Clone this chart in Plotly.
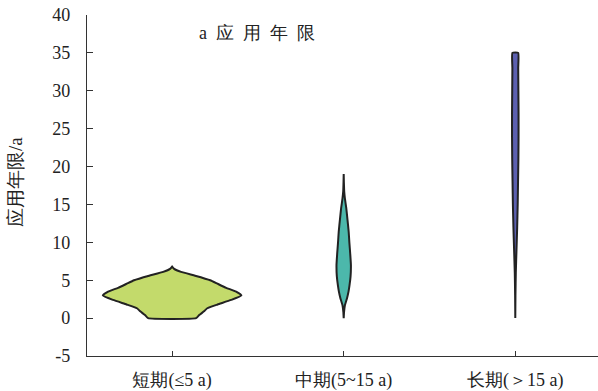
import plotly.graph_objects as go

# ---------------- data ----------------
categories = ["短期(≤5 a)", "中期(5~15 a)", "长期(＞15 a)"]
colors = ["#c3da6b", "#4cb8ab", "#5c60b0"]

# violin outlines: value levels (a) and half-widths (category units)
short_y = [0, 0.4, 0.9, 1.3, 1.8, 2.4, 3.0, 3.5, 4.0, 4.5, 5.0, 5.6, 6.1, 6.5, 6.8]
short_w = [0.140, 0.158, 0.186, 0.205, 0.265, 0.344, 0.404, 0.373, 0.315, 0.268,
           0.222, 0.134, 0.052, 0.012, 0.0]

mid_y = [0, 0.8, 1.7, 2.6, 3.5, 4.35, 5.5, 7.0, 8.5, 10, 11.4, 13, 14.5, 15.8, 16.7, 18, 19]
mid_w = [0.0, 0.002, 0.007, 0.019, 0.028, 0.034, 0.040, 0.042, 0.038, 0.033,
         0.029, 0.022, 0.015, 0.007, 0.003, 0.001, 0.0]

long_y = [0, 3, 6, 9, 12, 15, 18, 21, 24, 27, 30, 33, 35]
long_w = [0.0, 0.001, 0.003, 0.007, 0.011, 0.014, 0.016, 0.018, 0.019, 0.019,
          0.018, 0.017, 0.017]

profiles = [(short_y, short_w), (mid_y, mid_w), (long_y, long_w)]

y_tick_vals = [-5, 0, 5, 10, 15, 20, 25, 30, 35, 40]
y_tick_text = ["-5", "0", "5", "10", "15", "20", "25", "30", "35", "40"]

title_text = "a  应  用  年  限"
y_title = "应用年限/a"

# ---------------- figure ----------------
FONT = "serif"
TXT = "#222222"

fig = go.Figure()
for i, ((ys, ws), col) in enumerate(zip(profiles, colors)):
    xs = [i + w for w in ws] + [i - w for w in reversed(ws)]
    yy = list(ys) + list(reversed(ys))
    # close the outline explicitly so the base edge is stroked too
    xs.append(xs[0])
    yy.append(yy[0])
    fig.add_trace(go.Scatter(
        x=xs, y=yy, mode="lines", fill="toself", fillcolor=col,
        line=dict(color="#222222", width=2, shape="spline", smoothing=0.4),
        hoverinfo="skip", showlegend=False,
    ))

fig.update_layout(
    width=598, height=391,
    margin=dict(l=87, r=0, t=15, b=35),
    paper_bgcolor="white", plot_bgcolor="white",
    showlegend=False,
    font=dict(family=FONT, color=TXT),
    xaxis=dict(
        range=[-0.496, 2.482], tickvals=[0, 1, 2], ticktext=categories,
        showgrid=False, zeroline=False, showline=True, linecolor="#333333",
        linewidth=1.3, ticks="inside", ticklen=5, tickcolor="#333333",
        tickfont=dict(size=18, family=FONT, color=TXT), ticklabelstandoff=7,
    ),
    yaxis=dict(
        range=[-5, 40], tickvals=y_tick_vals, ticktext=y_tick_text,
        showgrid=False, zeroline=False, showline=True, linecolor="#333333",
        linewidth=1.3, ticks="inside", ticklen=6, tickcolor="#333333",
        tickfont=dict(size=18, family=FONT, color=TXT), ticklabelstandoff=12,
    ),
    annotations=[
        dict(text=title_text, xref="paper", yref="paper", x=0.333, y=0.947,
             xanchor="center", yanchor="middle", showarrow=False,
             font=dict(size=18, family=FONT, color=TXT)),
        dict(text=y_title, xref="paper", yref="paper", x=-0.141, y=0.51,
             xanchor="center", yanchor="middle", textangle=-90, showarrow=False,
             font=dict(size=19, family=FONT, color=TXT)),
    ],
)

fig.write_html("out.html")
